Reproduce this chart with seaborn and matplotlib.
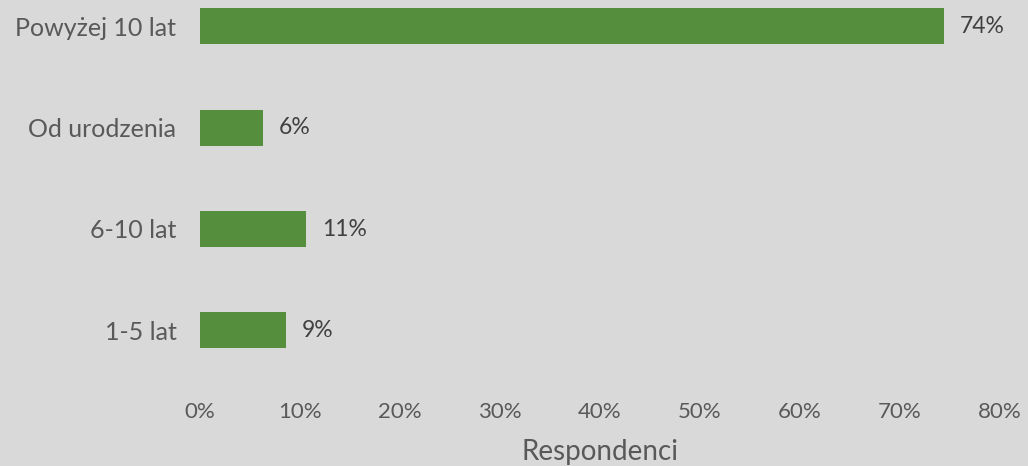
import matplotlib
matplotlib.use("Agg")
import matplotlib.pyplot as plt
import seaborn as sns
import pandas as pd

# values (percent of respondents)
categories = ["Powyżej 10 lat", "Od urodzenia", "6-10 lat", "1-5 lat"]
values = [74.4, 6.3, 10.6, 8.6]
x_ticks = [0, 10, 20, 30, 40, 50, 60, 70, 80]
x_label = "Respondenci"

bg = "#d9d9d9"
bar_color = "#558f3e"
text_grey = "#595959"

sns.set_theme(style="white")
plt.rcParams["font.family"] = ["Lato", "DejaVu Sans"]

df = pd.DataFrame({"kategoria": categories, "procent": values})

fig = plt.figure(figsize=(10.28, 4.66), dpi=100, facecolor=bg)
# axes placed in pixel terms: x from 200 to 1000 px, y from 0 to 390 px from top
ax = fig.add_axes([200 / 1028, (466 - 390) / 466, 800 / 1028, 390 / 466])
ax.set_facecolor(bg)

sns.barplot(data=df, x="procent", y="kategoria", orient="h",
            color=bar_color, saturation=1, width=0.357, linewidth=0, ax=ax)

# category centres sit at 26 px + 101.4 px * i
ax.set_ylim((390 - 26.2) / 101.4, -26.2 / 101.4)
ax.set_xlim(0, 80)

labels = [f"{v:.0f}%" for v in values]
ax.bar_label(ax.containers[0], labels=labels, padding=11.5,
             fontsize=16.5, color="#404040")

ax.set_xticks(x_ticks)
ax.set_xticklabels([f"{t}%" for t in x_ticks])
ax.tick_params(axis="x", length=0, pad=9, labelsize=16, labelcolor=text_grey)
ax.tick_params(axis="y", length=0, pad=17, labelsize=18, labelcolor=text_grey)
ax.set_ylabel("")
ax.set_xlabel(x_label, fontsize=20, color=text_grey, labelpad=12)

for side in ["top", "right", "bottom", "left"]:
    ax.spines[side].set_visible(False)

fig.savefig("out.png", dpi=100, facecolor=bg)
